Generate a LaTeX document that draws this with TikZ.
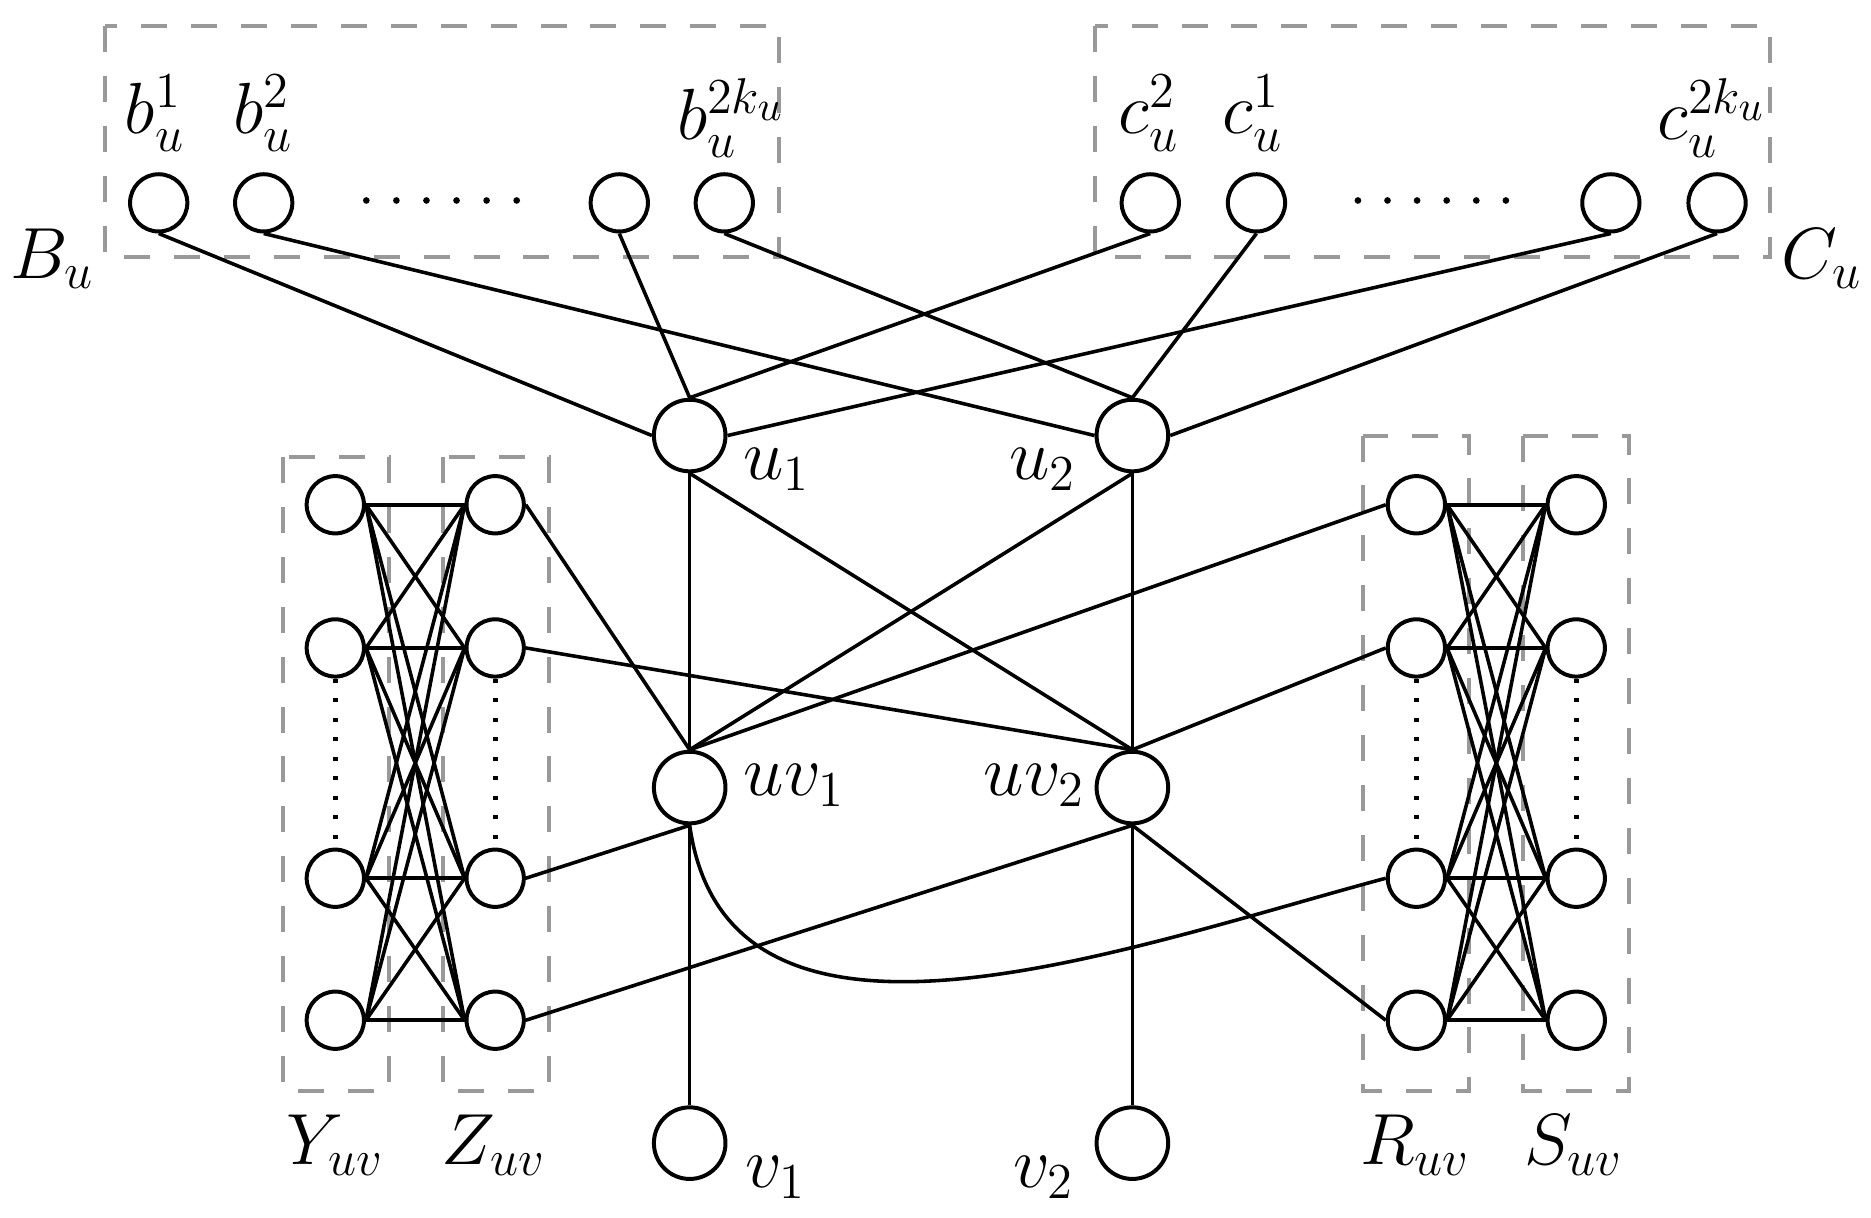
\documentclass[tikz,border=0pt]{standalone}

\begin{document}
\begin{tikzpicture}[x=0.1mm,y=-0.1mm,
    vert/.style={circle,draw,line width=0.95pt,minimum size=4.8mm,inner sep=0pt},
    bigvert/.style={circle,draw,line width=0.95pt,minimum size=6mm,inner sep=0pt},
    lab/.style={anchor=base,inner sep=0pt,font=\LARGE},
    edge/.style={line width=0.85pt},
    grp/.style={draw=black!40,line width=0.95pt,dash pattern=on 6.2pt off 5.7pt},
    vdots/.style={line width=1.1pt,dash pattern=on 1pt off 3.65pt}]
\useasboundingbox (0,0) rectangle (1568,1020);

% groups B_u and C_u
\draw[grp] (88,22) rectangle (653,215);
\draw[grp] (918,22) rectangle (1483,215);
\node[vert] (bu1) at (133,170) {};
\node[vert] (bu2) at (221,170) {};
\node[vert] (bu3) at (519,170) {};
\node[vert] (bu2k) at (607,170) {};
\node[vert] (cu2) at (964,170) {};
\node[vert] (cu1) at (1053,170) {};
\node[vert] (cu3) at (1350,170) {};
\node[vert] (cu2k) at (1439,170) {};
\foreach \i in {0,...,5} {
    \fill (307+25.2*\i,168) circle (0.28mm);
    \fill (1138+24.8*\i,168) circle (0.28mm);
}
\node[lab] (lbu1) at (130,112) {$b_u^1$};
\node[lab] (lbu2) at (221,112) {$b_u^2$};
\node[lab] (lbu2k) at (613,117) {$b_u^{2k_u}$};
\node[lab] (lcu2) at (963,112) {$c_u^2$};
\node[lab] (lcu1) at (1050,112) {$c_u^1$};
\node[lab] (lcu2k) at (1435,117) {$c_u^{2k_u}$};
\node[lab] (lBu) at (44,233) {$B_u$};
\node[lab] (lCu) at (1527,233) {$C_u$};

% middle vertices
\node[bigvert] (u1) at (578,365) {};
\node[bigvert] (u2) at (949,365) {};
\node[bigvert] (uv1) at (578,660) {};
\node[bigvert] (uv2) at (949,660) {};
\node[bigvert] (v1) at (578,958) {};
\node[bigvert] (v2) at (949,958) {};
\node[lab] (lu1) at (651,402) {$u_1$};
\node[lab] (lu2) at (874,402) {$u_2$};
\node[lab] (luv1) at (666,667) {$uv_1$};
\node[lab] (luv2) at (867,667) {$uv_2$};
\node[lab] (lv1) at (650,995) {$v_1$};
\node[lab] (lv2) at (875,995) {$v_2$};

% groups Y, Z, R, S
\draw[grp] (237,383) rectangle (326,914);
\draw[grp] (371,383) rectangle (460,914);
\draw[grp] (1142,365) rectangle (1231,914);
\draw[grp] (1276,365) rectangle (1365,914);
\foreach \i/\y in {1/423,2/543,3/736,4/855} {
    \node[vert] (y\i) at (281,\y) {};
    \node[vert] (z\i) at (415,\y) {};
    \node[vert] (r\i) at (1187,\y) {};
    \node[vert] (s\i) at (1321,\y) {};
}
\draw[vdots] (y2.south) -- (y3.north);
\draw[vdots] (z2.south) -- (z3.north);
\draw[vdots] (r2.south) -- (r3.north);
\draw[vdots] (s2.south) -- (s3.north);
\foreach \i in {1,...,4}
    \foreach \j in {1,...,4} {
        \draw[edge] (y\i.east) -- (z\j.west);
        \draw[edge] (r\i.east) -- (s\j.west);
    }
\node[lab] (lY) at (281,976) {$Y_{uv}$};
\node[lab] (lZ) at (414,976) {$Z_{uv}$};
\node[lab] (lR) at (1186,976) {$R_{uv}$};
\node[lab] (lS) at (1319,976) {$S_{uv}$};

% edges
\draw[edge] (bu1.south) -- (u1.west);
\draw[edge] (bu2.south) -- (u2.west);
\draw[edge] (bu3.south) -- (u1.north);
\draw[edge] (bu2k.south) -- (u2.north);
\draw[edge] (cu2.south) -- (u1.north);
\draw[edge] (cu1.south) -- (u2.north);
\draw[edge] (cu3.south) -- (u1.east);
\draw[edge] (cu2k.south) -- (u2.east);
\draw[edge] (u1.south) -- (uv1.north);
\draw[edge] (u1.south) -- (uv2.north);
\draw[edge] (u2.south) -- (uv1.north);
\draw[edge] (u2.south) -- (uv2.north);
\draw[edge] (uv1.south) -- (v1.north);
\draw[edge] (uv2.south) -- (v2.north);
\draw[edge] (z1.east) -- (uv1.north);
\draw[edge] (z2.east) -- (uv2.north);
\draw[edge] (z3.east) -- (uv1.south);
\draw[edge] (z4.east) -- (uv2.south);
\draw[edge] (r1.west) -- (uv1.north);
\draw[edge] (r2.west) -- (uv2.north);
\draw[edge] (uv1.south) to[out=-82,in=195] (r3.west);
\draw[edge] (r4.west) -- (uv2.south);
\end{tikzpicture}
\end{document}
